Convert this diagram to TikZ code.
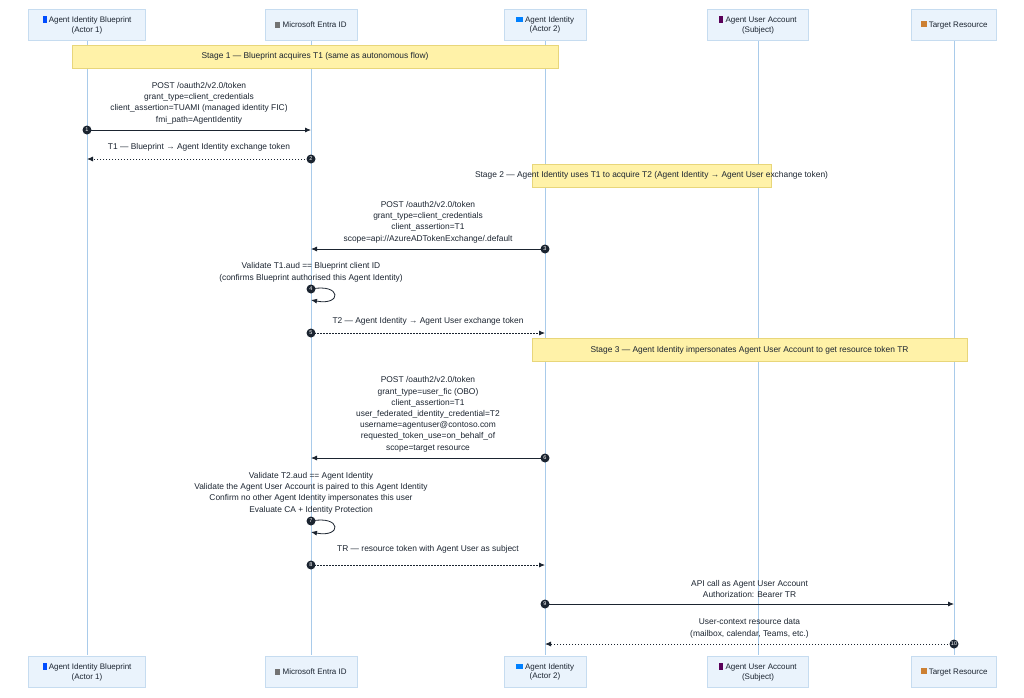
\documentclass[tikz,border=0pt]{standalone}
\usepackage{fontspec}
\setmainfont{Liberation Sans}
\usetikzlibrary{arrows.meta}
\definecolor{hdrfill}{HTML}{EAF3FC}
\definecolor{hdrdraw}{HTML}{C6DCF0}
\definecolor{lifec}{HTML}{A9CBEA}
\definecolor{notefill}{HTML}{FFF2A8}
\definecolor{notedraw}{HTML}{E8D67A}
\definecolor{ink}{HTML}{1B2430}
\begin{document}
\begin{tikzpicture}[x=1pt,y=-1pt,
  actor/.style={draw=hdrdraw,fill=hdrfill,minimum height=31pt,align=center,font=\fontsize{8}{9.5}\selectfont,inner sep=3pt,text=ink},
  life/.style={draw=lifec,line width=0.9pt},
  note/.style={draw=notedraw,fill=notefill,minimum height=23pt,font=\fontsize{8.4}{10}\selectfont,text=ink},
  lbl/.style={align=center,font=\fontsize{8.4}{11.2}\selectfont,inner sep=0pt,text=ink},
  msg/.style={draw=ink,line width=0.8pt,-{Latex[length=6pt,width=5pt]}},
  reply/.style={msg,dash pattern=on 1.5pt off 1.5pt},
  num/.style={circle,fill=ink,text=white,inner sep=0pt,minimum size=9pt,font=\fontsize{5.5}{5.5}\selectfont}]
\useasboundingbox (0,0) rectangle (1024,697);
% lifelines
\foreach \n/\x in {a/87,b/311,c/545,d/758,e/954}{
  \coordinate (t\n) at (\x,40); \coordinate (u\n) at (\x,655);
  \draw[life] (t\n) -- (u\n);}
% headers
\foreach \y/\s in {25/t,672/b}{
\node[actor,minimum width=117pt] (A\s) at (87,\y) {\textcolor{blue!70!cyan}{\rule{4pt}{7pt}} Agent Identity Blueprint\\(Actor 1)};
\node[actor,minimum width=92pt] (B\s) at (311,\y) {\textcolor{black!55}{\rule{5pt}{6pt}} Microsoft Entra ID};
\node[actor,minimum width=82pt] (C\s) at (545,\y) {\textcolor{blue!50!cyan}{\rule{7pt}{5pt}} Agent Identity\\(Actor 2)};
\node[actor,minimum width=101pt] (D\s) at (758,\y) {\textcolor{violet!70!black}{\rule{4pt}{7pt}} Agent User Account\\(Subject)};
\node[actor,minimum width=85pt] (E\s) at (954,\y) {\textcolor{brown!80!orange}{\rule{6pt}{6pt}} Target Resource};
}
% stage notes
\node[note,minimum width=486pt] (s1) at (315,56.5) {Stage 1 — Blueprint acquires T1 (same as autonomous flow)};
\node[note,minimum width=239pt] (s2) at (651.5,175.5) {};
\node[lbl] (s2t) at (651.5,175.5) {Stage 2 — Agent Identity uses T1 to acquire T2 (Agent Identity → Agent User exchange token)};
\node[note,minimum width=435pt] (s3) at (749.5,350) {Stage 3 — Agent Identity impersonates Agent User Account to get resource token TR};
% coordinates
\foreach \i/\x/\y in {1/87/130,1b/311/130,2/311/159,2b/87/159,3/545/249,3b/311/249,
  5/311/333,5b/545/333,6/545/458,6b/311/458,8/311/565,8b/545/565,9/545/604,9b/954/604,10/954/644,10b/545/644}
  \coordinate (p\i) at (\x,\y);
\coordinate (p4) at (311,289); \coordinate (p4b) at (311,300);
\coordinate (p7) at (311,521); \coordinate (p7b) at (311,532);
% messages
\draw[msg] (p1) -- (p1b);
\node[lbl,above=6pt] (l1) at (199,130) {POST /oauth2/v2.0/token\\grant\_type=client\_credentials\\client\_assertion=TUAMI (managed identity FIC)\\fmi\_path=AgentIdentity};
\draw[reply] (p2) -- (p2b);
\node[lbl] (l2) at (199,147) {T1 — Blueprint → Agent Identity exchange token};
\draw[msg] (p3) -- (p3b);
\node[lbl,above=6pt] (l3) at (428,249) {POST /oauth2/v2.0/token\\grant\_type=client\_credentials\\client\_assertion=T1\\scope=api://AzureADTokenExchange/.default};
\draw[msg] (p4) .. controls (342,283) and (342,306) .. (p4b);
\node[lbl,above=7pt] (l4) at (311,289) {Validate T1.aud == Blueprint client ID\\(confirms Blueprint authorised this Agent Identity)};
\draw[reply] (p5) -- (p5b);
\node[lbl] (l5) at (428,321) {T2 — Agent Identity → Agent User exchange token};
\draw[msg] (p6) -- (p6b);
\node[lbl,above=6pt] (l6) at (428,458) {POST /oauth2/v2.0/token\\grant\_type=user\_fic (OBO)\\client\_assertion=T1\\user\_federated\_identity\_credential=T2\\username=agentuser@contoso.com\\requested\_token\_use=on\_behalf\_of\\scope=target resource};
\draw[msg] (p7) .. controls (342,515) and (342,538) .. (p7b);
\node[lbl,above=7pt] (l7) at (311,521) {Validate T2.aud == Agent Identity\\Validate the Agent User Account is paired to this Agent Identity\\Confirm no other Agent Identity impersonates this user\\Evaluate CA + Identity Protection};
\draw[reply] (p8) -- (p8b);
\node[lbl] (l8) at (428,549) {TR — resource token with Agent User as subject};
\draw[msg] (p9) -- (p9b);
\node[lbl,above=6pt] (l9) at (749.5,604) {API call as Agent User Account\\Authorization: Bearer TR};
\draw[reply] (p10) -- (p10b);
\node[lbl,above=6pt] (l10) at (749.5,644) {User-context resource data\\(mailbox, calendar, Teams, etc.)};
% numbers
\foreach \i/\c in {1/p1,2/p2,3/p3,4/p4,5/p5,6/p6,7/p7,8/p8,9/p9,10/p10}
  \node[num] (n\i) at (\c) {\i};
\end{tikzpicture}
\end{document}
